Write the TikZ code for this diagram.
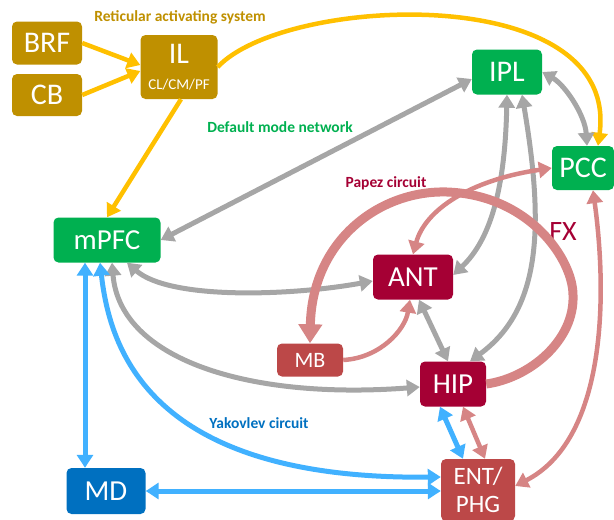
\documentclass[tikz,border=0pt]{standalone}
\usepackage{fontspec}
\setmainfont{Carlito}
\usetikzlibrary{arrows.meta}
\definecolor{rasgold}{RGB}{191,144,0}
\definecolor{rasyellow}{RGB}{255,192,0}
\definecolor{dmngreen}{RGB}{0,176,80}
\definecolor{dmngray}{RGB}{166,166,166}
\definecolor{papezred}{RGB}{165,0,52}
\definecolor{papezbrick}{RGB}{188,72,72}
\definecolor{papezpink}{RGB}{214,133,133}
\definecolor{yakblue}{RGB}{0,112,192}
\definecolor{yaksky}{RGB}{65,177,255}
\begin{document}
\begin{tikzpicture}[x=1pt,y=-1pt,
  box/.style={rounded corners=5pt,text=white,inner sep=0pt,align=center},
  rasnode/.style={box,fill=rasgold,font=\fontsize{30}{30}\selectfont},
  dmnnode/.style={box,fill=dmngreen,font=\fontsize{30}{30}\selectfont},
  papeznode/.style={box,fill=papezred,font=\fontsize{29}{29}\selectfont},
  papezlight/.style={box,fill=papezbrick},
  yaknode/.style={box,fill=yakblue,font=\fontsize{29}{29}\selectfont},
  grouplabel/.style={font=\bfseries\fontsize{15.5}{15.5}\selectfont,inner sep=0pt},
  rasline/.style={draw=rasyellow,line width=4.5pt,>={Triangle[length=13pt,width=16pt]}},
  dmnline/.style={draw=dmngray,line width=5pt,>={Triangle[length=13pt,width=16pt]}},
  papezline/.style={draw=papezpink,line width=4.5pt,>={Triangle[length=13pt,width=16pt]}},
  fornix/.style={draw=papezpink,line width=9pt,>={Triangle[length=19pt,width=23pt]}},
  yakline/.style={draw=yaksky,line width=5pt,>={Triangle[length=13pt,width=16pt]}}]
\useasboundingbox (0,0) rectangle (614,520);
% nodes
\node[rasnode,minimum width=70pt,minimum height=43pt] (BRF) at (47,43) {BRF};
\node[rasnode,minimum width=70pt,minimum height=42pt] (CB) at (47,95) {CB};
\node[rasnode,minimum width=77pt,minimum height=64pt] (IL) at (179,67) {IL\\[-4pt]{\fontsize{15}{15}\selectfont CL/CM/PF}};
\node[dmnnode,minimum width=70pt,minimum height=45pt] (IPL) at (507,72) {IPL};
\node[dmnnode,minimum width=62pt,minimum height=44pt] (PCC) at (583,168) {PCC};
\node[dmnnode,minimum width=107pt,minimum height=45pt,font=\fontsize{29}{29}\selectfont] (mPFC) at (107,240) {mPFC};
\node[papeznode,minimum width=80pt,minimum height=45pt] (ANT) at (413,277) {ANT};
\node[papeznode,minimum width=66pt,minimum height=45pt] (HIP) at (453,384) {HIP};
\node[papezlight,minimum width=66pt,minimum height=33pt,font=\fontsize{22}{22}\selectfont] (MB) at (310,360) {MB};
\node[papezlight,minimum width=74pt,minimum height=62pt,font=\fontsize{25}{28}\selectfont] (ENT) at (478,490) {ENT/\\PHG};
\node[yaknode,minimum width=79pt,minimum height=46pt] (MD) at (106,491) {MD};
% labels
\node[grouplabel,text=rasgold] (raslabel) at (180,17) {Reticular activating system};
\node[grouplabel,text=dmngreen] (dmnlabel) at (280,127) {Default mode network};
\node[grouplabel,text=papezred] (papezlabel) at (386,183) {Papez circuit};
\node[grouplabel,text=yakblue] (yaklabel) at (259,423) {Yakovlev circuit};
\node[text=papezred,font=\fontsize{28}{28}\selectfont,inner sep=0pt] (fxlabel) at (563,232) {FX};
% reticular activating system
\draw[rasline,->] (BRF.east) -- ([yshift=2pt]IL.west);
\draw[rasline,->] (CB.east) -- ([yshift=-4pt]IL.west);
\draw[rasline,->] ([xshift=2pt]IL.south) -- (mPFC.north);
\draw[rasline,->] (IL.east) .. controls (285,-5) and (620,-20) .. ([xshift=15pt]PCC.north);
% default mode network
\draw[dmnline,<->] (mPFC.east) -- ([yshift=-7pt]IPL.west);
\draw[dmnline,<->] (IPL.east) .. controls (565,85) and (585,115) .. ([xshift=4pt]PCC.north);
\draw[dmnline,<->] ([yshift=-4pt]ANT.west) .. controls (290,296) and (170,300) .. ([xshift=20pt]mPFC.south);
\draw[dmnline,<->] ([xshift=5pt]mPFC.south) .. controls (120,360) and (250,400) .. ([yshift=-3pt]HIP.west);
\draw[dmnline,<->] (IPL.south) .. controls (505,190) and (490,240) .. ([yshift=2pt]ANT.east);
\draw[dmnline,<->] ([xshift=15pt]IPL.south) .. controls (545,230) and (540,310) .. ([xshift=17pt]HIP.north);
\draw[dmnline,<->] ([xshift=6pt]ANT.south) -- ([xshift=-5pt]HIP.north);
% papez circuit
\draw[fornix,->] (HIP.east) .. controls (530,378) and (575,340) .. (573,295)
  .. controls (573,260) and (530,195) .. (447,192)
  .. controls (380,190) and (312,240) .. (MB.north);
\draw[papezline,->] (MB.east) .. controls (380,358) and (405,330) .. ([xshift=-3pt]ANT.south);
\draw[papezline,<->] (ANT.north) .. controls (425,210) and (470,180) .. (PCC.west);
\draw[papezline,<->] ([xshift=10pt]PCC.south) .. controls (608,300) and (605,440) .. ([yshift=4pt]ENT.east);
\draw[papezline,<->] ([xshift=10pt]HIP.south) -- ([xshift=7pt]ENT.north);
% yakovlev circuit
\draw[yakline,<->] ([xshift=-13pt]HIP.south) -- ([xshift=-15pt]ENT.north);
\draw[yakline,<->] ([xshift=-22pt]mPFC.south) -- ([xshift=-21pt]MD.north);
\draw[yakline,<->] ([xshift=-7pt]mPFC.south) .. controls (110,350) and (150,480) .. ([yshift=13pt]ENT.west);
\draw[yakline,<->] (MD.east) -- ([yshift=-1pt]ENT.west);
\end{tikzpicture}
\end{document}
